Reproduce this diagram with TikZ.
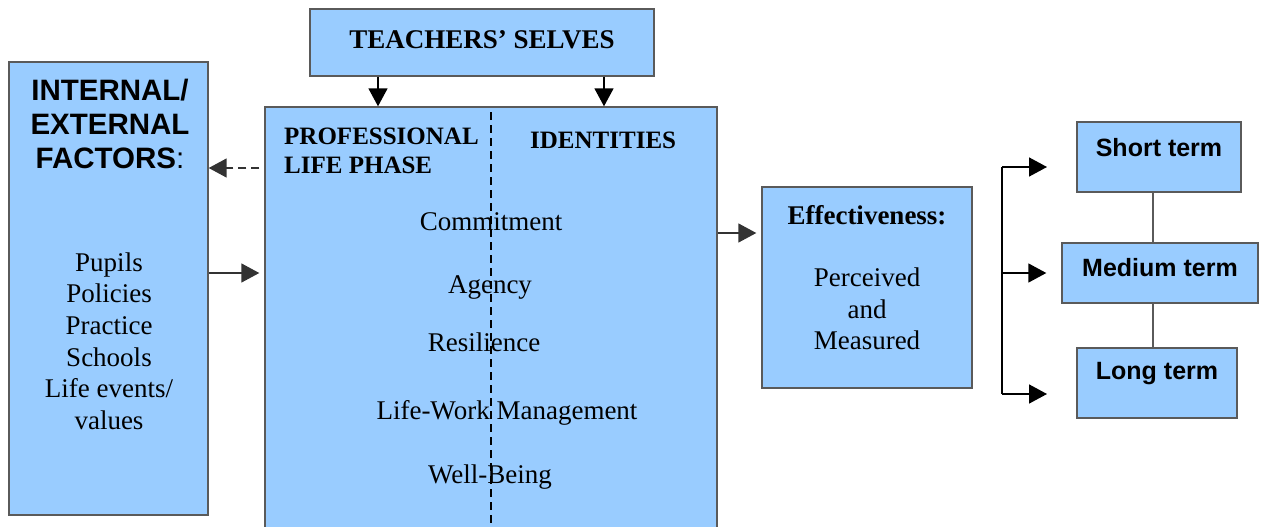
\documentclass[tikz,border=0pt]{standalone}
\usepackage{fontspec}
\setmainfont{Liberation Serif}
\setsansfont{Liberation Sans}
\usetikzlibrary{arrows.meta}
\definecolor{boxblue}{HTML}{99CCFF}
\definecolor{edgegray}{HTML}{5A5A5A}
\definecolor{arrgray}{HTML}{333333}
\begin{document}
\begin{tikzpicture}[x=1pt,y=-1pt,
  box/.style={draw=edgegray, line width=1.4pt, fill=boxblue, inner sep=0pt},
  tr/.style={font=\fontsize{27}{31.6}\selectfont, inner sep=0pt, align=center},
  trb/.style={font=\fontsize{27}{31.6}\selectfont\bfseries, inner sep=0pt, align=center},
  trs/.style={font=\fontsize{25}{29}\selectfont\bfseries, inner sep=0pt, align=left},
  sfb/.style={font=\fontsize{25}{29}\selectfont\sffamily\bfseries, inner sep=0pt},
  sfh/.style={font=\fontsize{29.5}{34}\selectfont\sffamily, inner sep=0pt, align=center},
  tipk/.style={-{Triangle[length=18pt,width=19pt]}, line width=1.6pt, black},
  tipg/.style={-{Triangle[length=18pt,width=19pt]}, line width=1.5pt, arrgray},
  link/.style={line width=1.4pt, edgegray}
]
\clip (0,0) rectangle (1263,527);
\fill[white] (0,0) rectangle (1263,527);

% boxes
\node[box, minimum width=344, minimum height=67] (teach) at (482,42.5) {};
\node[box, minimum width=199, minimum height=453] (left) at (108.5,288.5) {};
\node[box, minimum width=452, minimum height=453] (main) at (491,333.5) {};
\node[box, minimum width=210, minimum height=201] (eff) at (867,287.5) {};
\node[box, minimum width=164, minimum height=70] (short) at (1159,157) {};
\node[box, minimum width=196, minimum height=60] (medium) at (1160,273) {};
\node[box, minimum width=160, minimum height=70] (long) at (1157,383) {};

% texts
\node[trb] (tteach) at (482,40) {TEACHERS’ SELVES};
\node[sfh] (thead) at (110,124) {\bfseries INTERNAL/\\\bfseries EXTERNAL\\\bfseries FACTORS\mdseries:};
\node[tr] (tlist) at (109,341) {Pupils\\Policies\\Practice\\Schools\\Life events/\\values};
\node[trs, anchor=west] (tplp) at (284,151) {PROFESSIONAL\\LIFE PHASE};
\node[trs, anchor=base west] (tid) at (530,148) {IDENTITIES};
\node[tr] (tcom) at (491,222) {Commitment};
\node[tr] (tag) at (490,287) {Agency};
\node[tr] (tres) at (484,342) {Resilience};
\node[tr] (tlwm) at (507,413) {Life-Work Management};
\node[tr] (twb) at (490,477) {Well-Being};
\node[trb] (teff) at (867,215) {Effectiveness:};
\node[tr] (tpm) at (867,309) {Perceived\\and\\Measured};
\node[sfb] (tshort) at (1159,148) {Short term};
\node[sfb] (tmed) at (1160,268) {Medium term};
\node[sfb] (tlong) at (1157,374) {Long term};

% dashed divider
\coordinate (dtop) at (491,112);
\coordinate (dbot) at (491,540);
\draw[line width=1.5pt, black, dash pattern=on 8pt off 5pt] (dtop) -- (dbot);

% arrows from teachers' selves
\draw[tipk] ([xshift=-104pt]teach.south) -- ([xshift=-113pt]main.north);
\draw[tipk] ([xshift=122pt]teach.south) -- ([xshift=113pt]main.north);

% left arrows
\coordinate (ya) at (0,168);
\coordinate (yb) at (0,273);
\draw[tipg, dash pattern=on 8pt off 5pt] ([xshift=-5pt]main.west |- ya) -- (left.east |- ya);
\draw[tipg] (left.east |- yb) -- ([xshift=-5pt]main.west |- yb);

% main -> effectiveness
\coordinate (yc) at (0,233);
\draw[tipg] (main.east |- yc) -- ([xshift=-5pt]eff.west |- yc);

% bracket
\coordinate (b1) at (1002,167);
\coordinate (b2) at (1002,273);
\coordinate (b3) at (1002,394);
\coordinate (e1) at (1047,167);
\coordinate (e3) at (1047,394);
\draw[line width=1.6pt, black] (b1) -- (b3);
\draw[tipk] (b1) -- (e1);
\draw[tipk] (b2) -- ([xshift=-15pt]medium.west);
\draw[tipk] (b3) -- (e3);

% links between term boxes
\coordinate (lx) at (1153,0);
\draw[link] (short.south -| lx) -- (medium.north -| lx);
\draw[link] (medium.south -| lx) -- (long.north -| lx);
\end{tikzpicture}
\end{document}
